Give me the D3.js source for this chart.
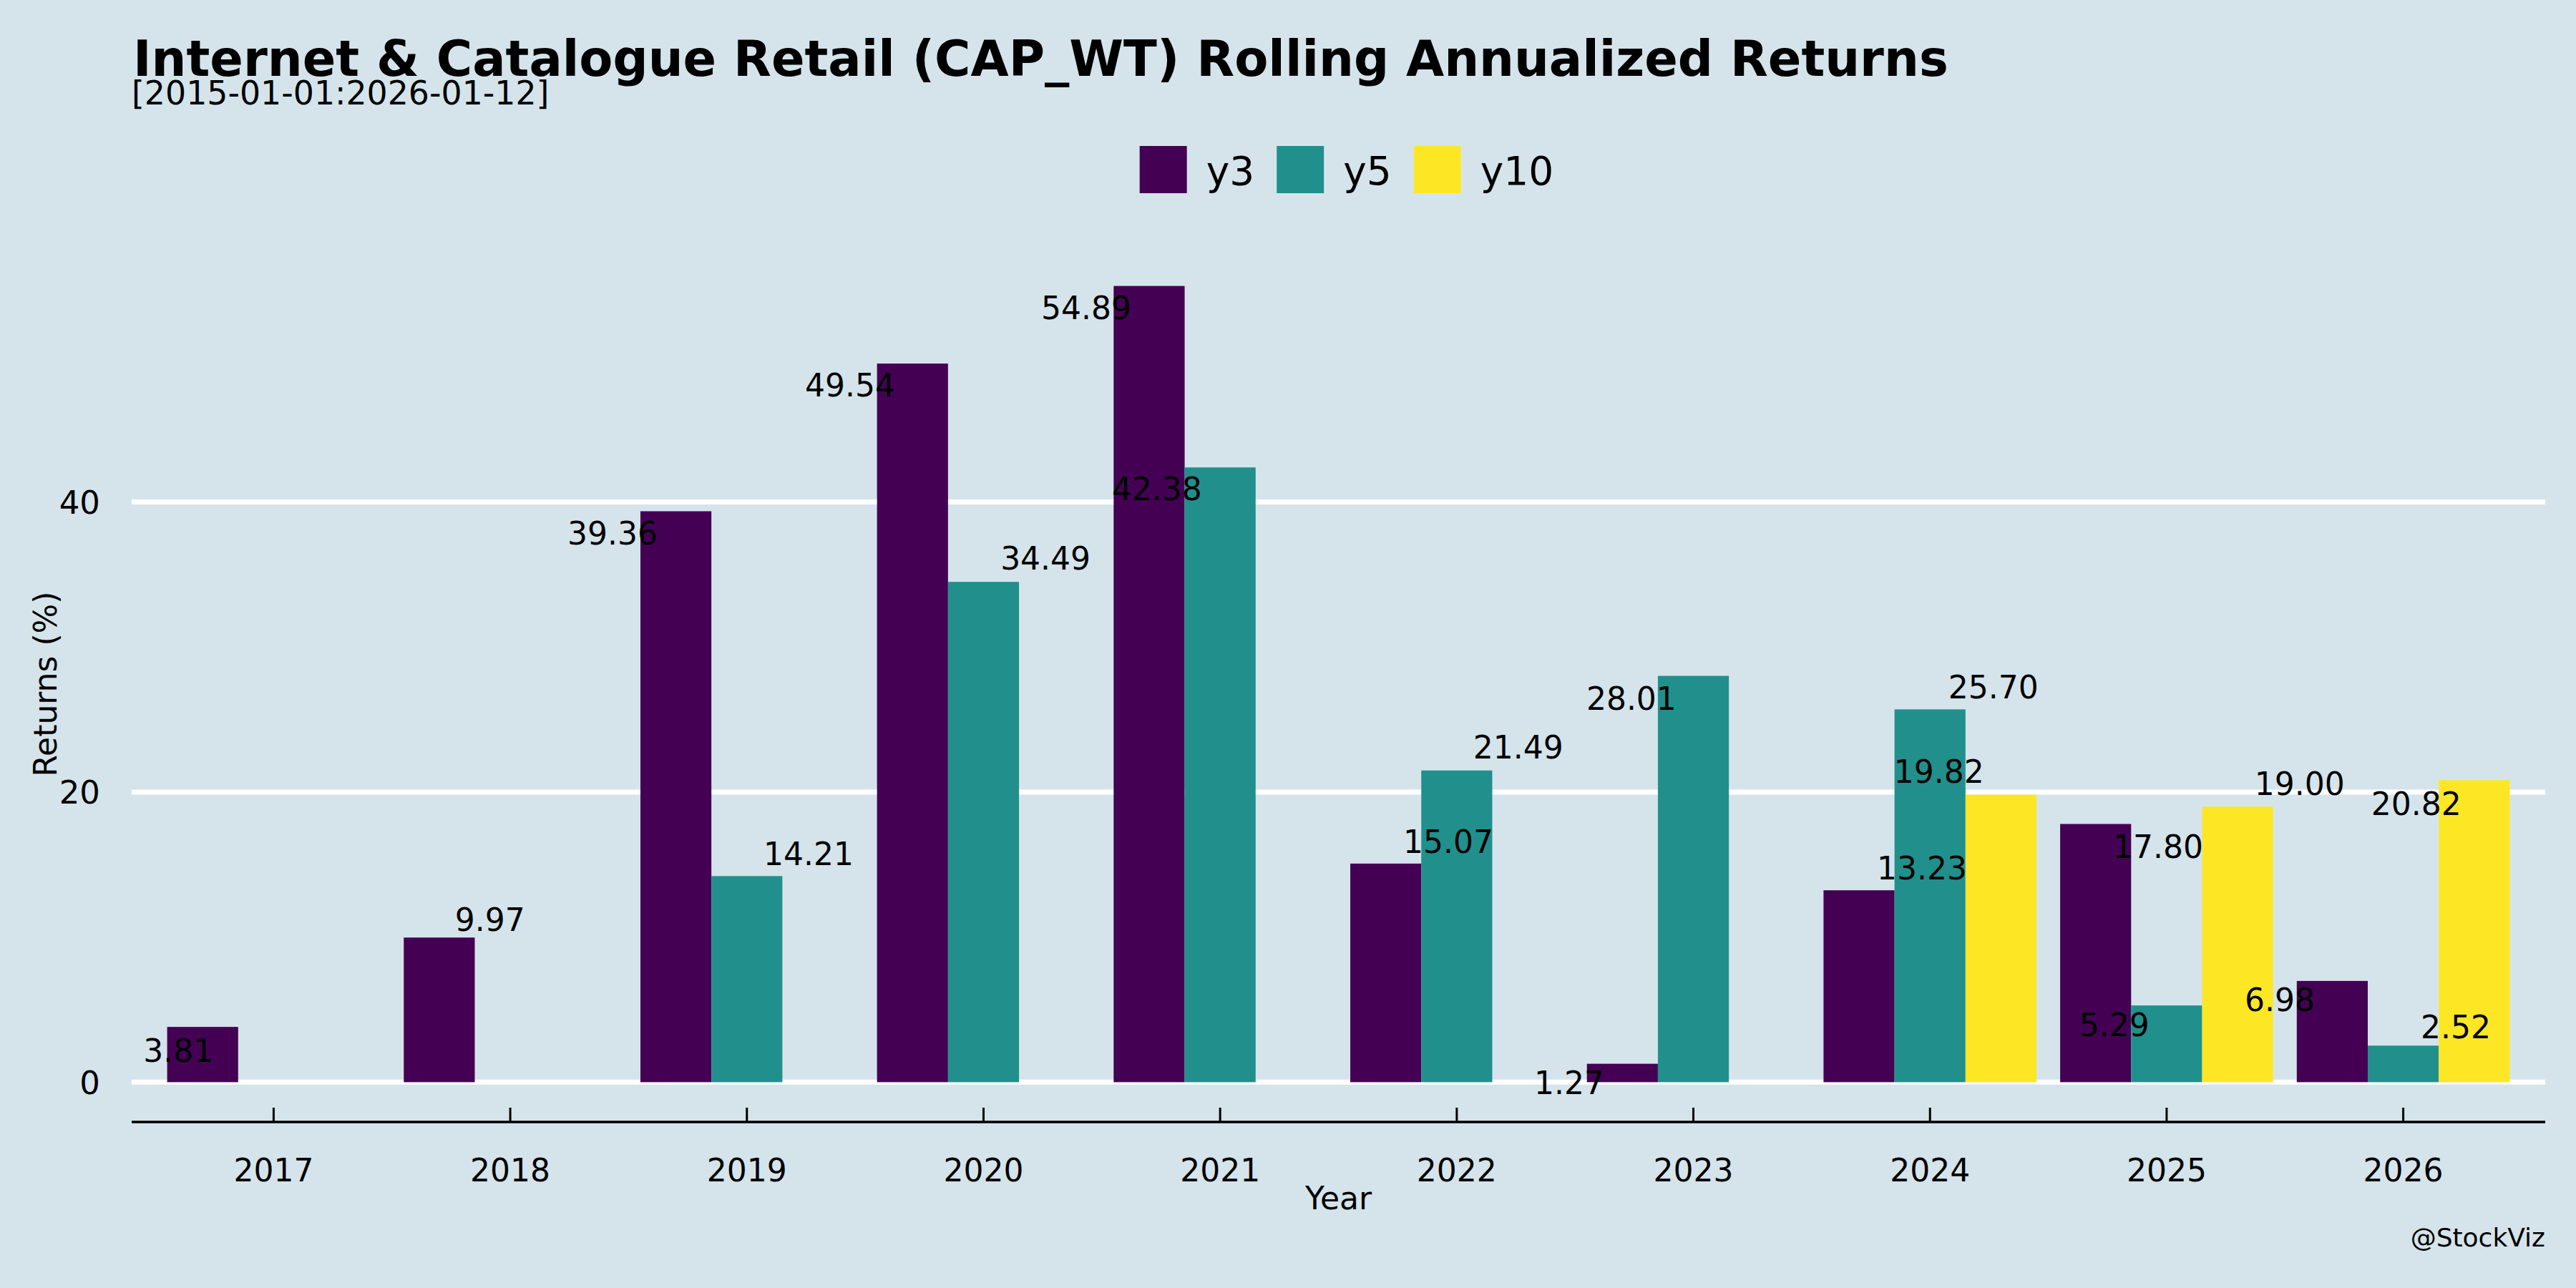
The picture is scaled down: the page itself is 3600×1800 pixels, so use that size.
<!DOCTYPE html>
<html>
<head>
<meta charset="utf-8">
<script src="https://cdn.jsdelivr.net/npm/d3@7"></script>
<style>
  html, body { margin: 0; padding: 0; background: #d5e4eb; }
  svg { display: block; font-family: "DejaVu Sans", sans-serif; }
</style>
</head>
<body>
<div id="chart"></div>
<script>
// chart data
const years = ["2017", "2018", "2019", "2020", "2021", "2022", "2023", "2024", "2025", "2026"];
const seriesNames = ["y3", "y5", "y10"];
const y3 = [3.81, 9.97, 39.36, 49.54, 54.89, 15.07, 1.27, 13.23, 17.80, 6.98];
const y5 = [null, null, 14.21, 34.49, 42.38, 21.49, 28.01, 25.70, 5.29, 2.52];
const y10 = [null, null, null, null, null, null, null, 19.82, 19.00, 20.82];
const yTicks = [0, 20, 40];

// where the (repelled) value labels sit, relative to their bar: x in year units, y in %
const nudgeX3 = [-0.103, 0.214, -0.268, -0.264, -0.266, 0.264, -0.225, 0.266, 0.264, -0.222];
const nudgeY3 = [-1.64, 1.23, -1.52, -1.49, -1.51, 1.51, -1.32, 1.52, -1.57, -1.31];
const nudgeX5 = [null, null, 0.261, 0.262, -0.267, 0.260, -0.262, 0.268, -0.221, 0.222];
const nudgeY5 = [null, null, 1.53, 1.62, -1.48, 1.60, -1.55, 1.55, -1.34, 1.28];
const nudgeX10 = [null, null, null, null, null, null, null, -0.262, 0.262, -0.245];
const nudgeY10 = [null, null, null, null, null, null, null, 1.59, 1.57, -1.63];

const colors = ["#440154", "#21908c", "#fde725"];

const width = 3600,
      height = 1800;

const svg = d3.select("#chart")
  .append("svg")
  .attr("width", width)
  .attr("height", height);

svg.append("rect")
  .attr("width", width)
  .attr("height", height)
  .attr("fill", "#d5e4eb");

// flatten into bar records
const values = [y3, y5, y10];
const nx = [nudgeX3, nudgeX5, nudgeX10];
const ny = [nudgeY3, nudgeY5, nudgeY10];
const bars = [];
values.forEach((arr, s) => {
  arr.forEach((v, i) => {
    if (v != null) bars.push({ year: years[i], i: i, s: s, value: v, dx: nx[s][i], dy: ny[s][i] });
  });
});

// scales (ggplot style expansion: 0.6 on discrete x, 5% on y)
const plotLeft = 184, plotRight = 3557, plotTop = 344, plotBottom = 1568;
const x = d3.scaleLinear()
  .domain([-0.6, years.length - 1 + 0.6])
  .range([plotLeft, plotRight]);

const maxV = d3.max(bars, d => d.value);
const pad = maxV * 0.05;
const y = d3.scaleLinear()
  .domain([-pad, maxV + pad])
  .range([plotBottom, plotTop]);

const barW = 0.3;
const offset = s => (s - 1) * barW;

// gridlines
svg.append("g")
  .selectAll("line")
  .data(yTicks)
  .join("line")
    .attr("x1", plotLeft)
    .attr("x2", plotRight)
    .attr("y1", d => y(d))
    .attr("y2", d => y(d))
    .attr("stroke", "white")
    .attr("stroke-width", 7);

// y tick labels
svg.append("g")
  .selectAll("text")
  .data(yTicks)
  .join("text")
    .attr("x", 140)
    .attr("y", d => y(d))
    .attr("dy", "0.36em")
    .attr("text-anchor", "end")
    .attr("font-size", 45)
    .text(d => d);

// bars
svg.append("g")
  .selectAll("rect")
  .data(bars)
  .join("rect")
    .attr("x", d => x(d.i + offset(d.s) - barW / 2))
    .attr("width", x(barW) - x(0))
    .attr("y", d => y(Math.max(0, d.value)))
    .attr("height", d => Math.abs(y(d.value) - y(0)))
    .attr("fill", d => colors[d.s]);

// value labels
svg.append("g")
  .selectAll("text")
  .data(bars)
  .join("text")
    .attr("x", d => x(d.i + offset(d.s) + d.dx))
    .attr("y", d => y(d.value + d.dy))
    .attr("dy", "0.36em")
    .attr("text-anchor", "middle")
    .attr("font-size", 44)
    .attr("fill", "black")
    .text(d => d.value.toFixed(2));

// x axis
const xAxis = svg.append("g");
xAxis.append("line")
  .attr("x1", plotLeft)
  .attr("x2", plotRight)
  .attr("y1", plotBottom)
  .attr("y2", plotBottom)
  .attr("stroke", "black")
  .attr("stroke-width", 3.5);

xAxis.selectAll(".tick")
  .data(years)
  .join("line")
    .attr("class", "tick")
    .attr("x1", (d, i) => x(i))
    .attr("x2", (d, i) => x(i))
    .attr("y1", plotBottom)
    .attr("y2", plotBottom - 20)
    .attr("stroke", "black")
    .attr("stroke-width", 3);

xAxis.selectAll(".ticklabel")
  .data(years)
  .join("text")
    .attr("class", "ticklabel")
    .attr("x", (d, i) => x(i))
    .attr("y", 1651)
    .attr("text-anchor", "middle")
    .attr("font-size", 44)
    .text(d => d);

// axis titles
svg.append("text")
  .attr("x", (plotLeft + plotRight) / 2)
  .attr("y", 1690)
  .attr("text-anchor", "middle")
  .attr("font-size", 44)
  .text("Year");

svg.append("text")
  .attr("transform", "translate(79," + ((plotTop + plotBottom) / 2) + ") rotate(-90)")
  .attr("text-anchor", "middle")
  .attr("font-size", 44)
  .text("Returns (%)");

// title + subtitle
svg.append("text")
  .attr("x", 186)
  .attr("y", 106)
  .attr("font-size", 68.7)
  .attr("font-weight", "bold")
  .text("Internet & Catalogue Retail (CAP_WT) Rolling Annualized Returns");

svg.append("text")
  .attr("x", 184)
  .attr("y", 146)
  .attr("font-size", 45.8)
  .text("[2015-01-01:2026-01-12]");

// legend
const legend = svg.append("g");
const sw = 66;
let lx = 0;
seriesNames.forEach((name, s) => {
  const g = legend.append("g");
  g.append("rect")
    .attr("x", 0)
    .attr("y", 204)
    .attr("width", sw)
    .attr("height", sw)
    .attr("fill", colors[s]);
  const t = g.append("text")
    .attr("x", sw + 27)
    .attr("y", 258)
    .attr("font-size", 55)
    .text(name);
  const w = t.node().getComputedTextLength();
  g.attr("transform", "translate(" + lx + ",0)");
  lx += sw + 27 + w + 31;
});
const legendW = lx - 31;
legend.attr("transform", "translate(" + (1882 - legendW / 2) + ",0)");

// caption
svg.append("text")
  .attr("x", plotRight)
  .attr("y", 1742)
  .attr("text-anchor", "end")
  .attr("font-size", 36)
  .text("@StockViz");
</script>
</body>
</html>
